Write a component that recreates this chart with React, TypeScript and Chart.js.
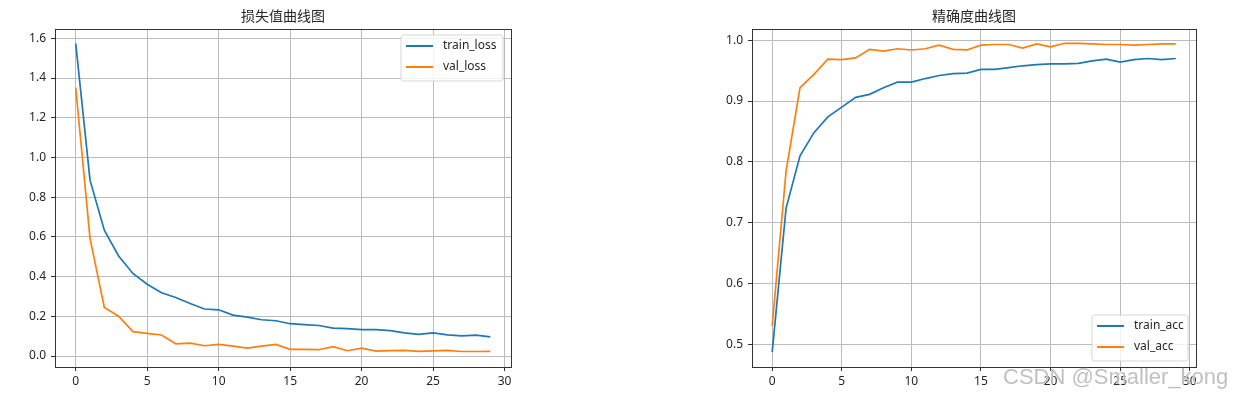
import React, { useEffect, useRef } from "react";
import { Chart, registerables } from "chart.js";

Chart.register(...registerables);

const epochs = Array.from({ length: 30 }, (_, i) => i);

const trainLoss = [1.574, 0.886, 0.634, 0.504, 0.416, 0.362, 0.319, 0.295, 0.265, 0.237, 0.233, 0.206, 0.196, 0.183, 0.178, 0.163, 0.158, 0.154, 0.141, 0.138, 0.133, 0.133, 0.128, 0.117, 0.109, 0.117, 0.107, 0.102, 0.105, 0.097];
const valLoss = [1.351, 0.593, 0.245, 0.201, 0.123, 0.114, 0.106, 0.062, 0.065, 0.052, 0.059, 0.050, 0.040, 0.050, 0.059, 0.034, 0.034, 0.032, 0.047, 0.027, 0.040, 0.025, 0.027, 0.029, 0.024, 0.026, 0.029, 0.023, 0.023, 0.024];
const trainAcc = [0.487, 0.724, 0.810, 0.848, 0.874, 0.890, 0.906, 0.911, 0.922, 0.931, 0.931, 0.937, 0.942, 0.945, 0.946, 0.952, 0.952, 0.955, 0.958, 0.960, 0.961, 0.961, 0.962, 0.966, 0.969, 0.964, 0.968, 0.970, 0.968, 0.970];
const valAcc = [0.530, 0.785, 0.922, 0.944, 0.969, 0.968, 0.971, 0.985, 0.982, 0.986, 0.984, 0.986, 0.992, 0.985, 0.984, 0.992, 0.993, 0.993, 0.987, 0.994, 0.989, 0.995, 0.995, 0.994, 0.993, 0.993, 0.992, 0.993, 0.994, 0.994];

const lossTicks = [0, 0.2, 0.4, 0.6, 0.8, 1.0, 1.2, 1.4, 1.6];
const accTicks = [0.5, 0.6, 0.7, 0.8, 0.9, 1.0];
const xTicks = [0, 5, 10, 15, 20, 25, 30];

const BLUE = "#1f77b4";
const ORANGE = "#ff7f0e";
const TICK_FONT = { family: "'Noto Sans', 'Noto Sans CJK SC', sans-serif", size: 12 };

type Cfg = {
  title: string;
  labels: [string, string];
  s1: number[];
  s2: number[];
  yMin: number;
  yMax: number;
  yTicks: number[];
  width: number;
  pad: { left: number; right: number; top: number; bottom: number };
  yWidth: number;
  xHeight: number;
  legendPos: "upper" | "lower";
};

function ChartBox({ cfg, left }: { cfg: Cfg; left: number }) {
  const ref = useRef<HTMLCanvasElement | null>(null);
  useEffect(() => {
    const canvas = ref.current!;
    const framePlugin = {
      id: "frame",
      afterDraw(chart: any) {
        const { ctx, chartArea: a } = chart;
        ctx.save();
        ctx.strokeStyle = "#333";
        ctx.lineWidth = 1;
        ctx.strokeRect(Math.round(a.left) + 0.5, Math.round(a.top) + 0.5, Math.round(a.right - a.left), Math.round(a.bottom - a.top));
        // title
        ctx.fillStyle = "#262626";
        ctx.font = "14px 'Noto Sans CJK SC', sans-serif";
        ctx.textAlign = "center";
        ctx.textBaseline = "middle";
        ctx.fillText(cfg.title, (a.left + a.right) / 2, 16);
        // legend
        const bw = cfg.legendPos === "upper" ? 102 : 96;
        const bh = 46;
        const bx = a.right - 8 - bw;
        const by = cfg.legendPos === "upper" ? a.top + 6 : a.bottom - 6 - bh;
        ctx.beginPath();
        const r = 3;
        ctx.moveTo(bx + r, by);
        ctx.arcTo(bx + bw, by, bx + bw, by + bh, r);
        ctx.arcTo(bx + bw, by + bh, bx, by + bh, r);
        ctx.arcTo(bx, by + bh, bx, by, r);
        ctx.arcTo(bx, by, bx + bw, by, r);
        ctx.closePath();
        ctx.fillStyle = "rgba(255,255,255,0.8)";
        ctx.fill();
        ctx.strokeStyle = "#d6d6d6";
        ctx.stroke();
        chart.data.datasets.forEach((ds: any, i: number) => {
          const y = by + 11 + i * 21;
          ctx.strokeStyle = ds.borderColor;
          ctx.lineWidth = 2;
          ctx.beginPath();
          ctx.moveTo(bx + 5, y);
          ctx.lineTo(bx + 32, y);
          ctx.stroke();
          ctx.fillStyle = "#262626";
          ctx.font = "12px 'Noto Sans', sans-serif";
          ctx.textAlign = "left";
          ctx.textBaseline = "middle";
          ctx.fillText(ds.label, bx + 42, y);
        });
        ctx.restore();
      },
    };
    const chart = new Chart(canvas, {
      type: "line",
      data: {
        datasets: [
          { label: cfg.labels[0], data: epochs.map((e, i) => ({ x: e, y: cfg.s1[i] })), borderColor: BLUE, backgroundColor: BLUE, borderWidth: 1.7, pointRadius: 0, tension: 0 },
          { label: cfg.labels[1], data: epochs.map((e, i) => ({ x: e, y: cfg.s2[i] })), borderColor: ORANGE, backgroundColor: ORANGE, borderWidth: 1.7, pointRadius: 0, tension: 0 },
        ],
      },
      options: {
        animation: false,
        responsive: false,
        devicePixelRatio: 1,
        layout: { padding: cfg.pad },
        plugins: { legend: { display: false }, title: { display: false }, tooltip: { enabled: false } },
        scales: {
          x: {
            type: "linear",
            min: -1.45,
            max: 30.45,
            afterBuildTicks: (s: any) => { s.ticks = xTicks.map((v) => ({ value: v })); },
            afterFit: (s: any) => { s.height = cfg.xHeight; },
            ticks: { font: TICK_FONT, color: "#262626", padding: 3, maxRotation: 0, callback: (v: any) => String(v) },
            grid: { color: "#bcbcbc", lineWidth: 1, tickColor: "#333", tickLength: 4 },
            border: { display: false },
          },
          y: {
            type: "linear",
            min: cfg.yMin,
            max: cfg.yMax,
            afterBuildTicks: (s: any) => { s.ticks = cfg.yTicks.map((v) => ({ value: v })); },
            afterFit: (s: any) => { s.width = cfg.yWidth; },
            ticks: { font: TICK_FONT, color: "#262626", padding: 5, callback: (v: any) => Number(v).toFixed(1) },
            grid: { color: "#bcbcbc", lineWidth: 1, tickColor: "#333", tickLength: 4 },
            border: { display: false },
          },
        },
      },
      plugins: [framePlugin],
    } as any);
    return () => chart.destroy();
  }, [cfg]);
  return (
    <canvas
      ref={ref}
      width={cfg.width}
      height={398}
      style={{ position: "absolute", left, top: 0, width: cfg.width, height: 398 }}
    />
  );
}

const lossCfg: Cfg = {
  title: "损失值曲线图",
  labels: ["train_loss", "val_loss"],
  s1: trainLoss,
  s2: valLoss,
  yMin: -0.055,
  yMax: 1.647,
  yTicks: lossTicks,
  width: 620,
  pad: { left: 0, right: 109, top: 29, bottom: 0 },
  yWidth: 55,
  xHeight: 31,
  legendPos: "upper",
};

const accCfg: Cfg = {
  title: "精确度曲线图",
  labels: ["train_acc", "val_acc"],
  s1: trainAcc,
  s2: valAcc,
  yMin: 0.4625,
  yMax: 1.0185,
  yTicks: accTicks,
  width: 616,
  pad: { left: 82, right: 40, top: 29, bottom: 0 },
  yWidth: 50,
  xHeight: 31,
  legendPos: "lower",
};

export default function App() {
  return (
    <div style={{ position: "absolute", left: 0, top: 0, width: 1236, height: 398, background: "#fff", overflow: "hidden" }}>
      <ChartBox cfg={lossCfg} left={0} />
      <ChartBox cfg={accCfg} left={620} />
      <div
        style={{
          position: "absolute",
          left: 1003,
          top: 362,
          fontFamily: "'Liberation Sans', Arial, sans-serif",
          fontSize: 22,
          lineHeight: "30px",
          color: "rgba(165,165,165,0.7)",
          whiteSpace: "nowrap",
          textShadow: "0 0 1px #fff",
        }}
      >
        CSDN @Smaller_kong
      </div>
    </div>
  );
}
